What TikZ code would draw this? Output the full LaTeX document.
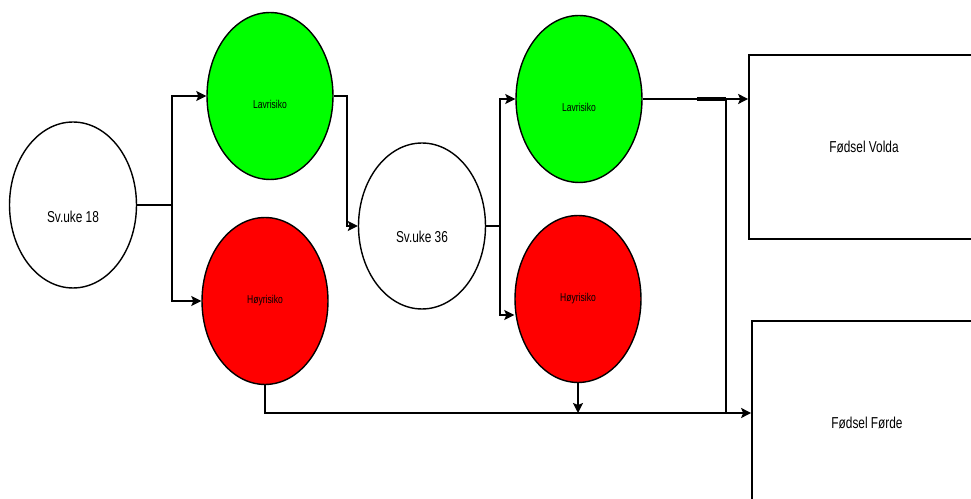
\documentclass[tikz,border=0pt]{standalone}
\usepackage{fontspec}
\setmainfont{Liberation Sans}[FakeStretch=0.75]
\usetikzlibrary{shapes.geometric,arrows.meta}

\newcommand{\lowertext}[2]{\raisebox{-#1}[\height][\depth]{#2}}

\begin{document}
\begin{tikzpicture}[x=0.02cm,y=-0.02cm,
    week/.style={draw,ellipse,line width=0.8pt,fill=white,inner sep=0pt,
      minimum width=2.54cm,minimum height=3.32cm,font=\fontsize{9}{10}\selectfont},
    risk/.style={draw,ellipse,line width=0.8pt,inner sep=0pt,
      minimum width=2.52cm,minimum height=3.34cm,font=\fontsize{6.5}{7}\selectfont},
    birth/.style={draw,rectangle,line width=1pt,inner sep=0pt,minimum width=4.6cm,
      font=\fontsize{9}{10}\selectfont},
    conn/.style={line width=1pt},
    arr/.style={conn,-{Stealth[length=2mm,width=2mm,inset=0.4mm]}}]
  \clip (0,0) rectangle (971,499);
  \fill[white] (0,0) rectangle (971,499);

  % gestational weeks and risk groups
  \node[week] (Uke18) at (73,205) {\lowertext{0.24cm}{Sv.uke 18}};
  \node[risk,fill=green] (Lav1) at (270,96) {\lowertext{0.16cm}{Lavrisiko}};
  \node[risk,fill=red] (Hoy1) at (265,301) {Høyrisiko};
  \node[week] (Uke36) at (422,226) {\lowertext{0.22cm}{Sv.uke 36}};
  \node[risk,fill=green] (Lav2) at (579,99) {\lowertext{0.16cm}{Lavrisiko}};
  \node[risk,fill=red] (Hoy2) at (578,299) {Høyrisiko};

  % places of birth
  \node[birth,minimum height=3.68cm] (Volda) at (864,147) {Fødsel Volda};
  \node[birth,minimum height=4.08cm] (Forde) at (867,423) {Fødsel Førde};

  \coordinate (Split1) at (172,205);
  \coordinate (Split2) at (500,226);
  \coordinate (BarStart) at (697,99);
  \coordinate (BarEnd) at (726,99);
  \coordinate (JoinForde) at (726,413);
  \coordinate (JoinHoy2) at (578,413);

  \draw[conn] (Uke18.east) -- (Split1);
  \draw[arr] (Split1) |- (Lav1.west);
  \draw[arr] (Split1) |- (Hoy1.west);
  \draw[arr] (Lav1.east) -- ++(13,0) |- (Uke36.west);
  \draw[conn] (Uke36.east) -- (Split2);
  \draw[arr] (Split2) |- (Lav2.west);
  \draw[arr] (Split2) |- ([yshift=-0.32cm]Hoy2.west);
  \draw[arr] (Lav2.east) -- (Lav2.east -| Volda.west);
  \draw[line width=2pt] (BarStart) -- (BarEnd);
  \draw[conn] (BarEnd) -- (JoinForde);
  \draw[arr] (Hoy1.south) |- ([yshift=0.2cm]Forde.west);
  \draw[arr] (Hoy2.south) -- (JoinHoy2);
\end{tikzpicture}
\end{document}
